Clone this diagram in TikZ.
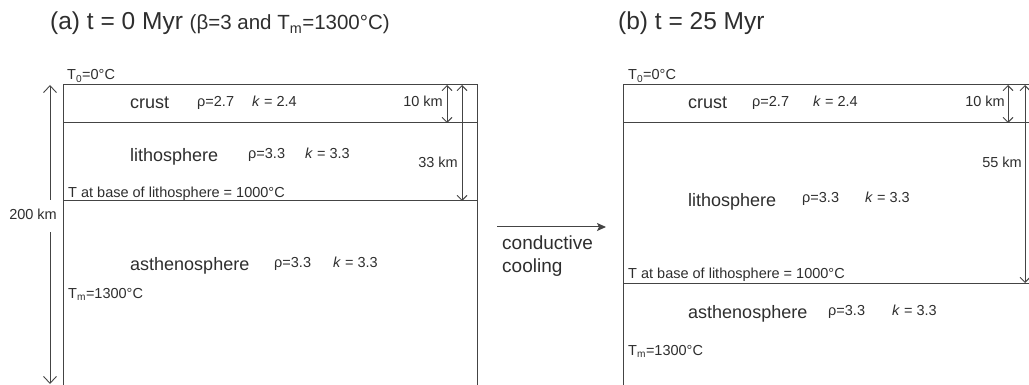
\documentclass[tikz,border=0pt]{standalone}
\usepackage{fontspec}
\setmainfont{Liberation Sans}
\usetikzlibrary{arrows.meta}
\definecolor{txt}{HTML}{2E2E2E}
\definecolor{ln}{HTML}{444444}
\begin{document}
\begin{tikzpicture}[x=1pt,y=-1pt,
  lbl/.style={inner sep=0pt,anchor=base west,text=txt},
  lblr/.style={inner sep=0pt,anchor=base east,text=txt},
  big/.style={lbl,font=\fontsize{18}{20}\selectfont},
  sml/.style={lbl,font=\fontsize{14.5}{16}\selectfont},
  smlr/.style={lblr,font=\fontsize{14.5}{16}\selectfont},
  ttl/.style={lbl,font=\fontsize{24.5}{27}\selectfont},
  boxline/.style={draw=ln,line width=1pt},
  dim/.style={draw=ln,line width=0.9pt,{Straight Barb[length=5pt,width=10pt]}-{Straight Barb[length=5pt,width=10pt]}},
  bigdim/.style={draw=ln,line width=0.9pt,-{Straight Barb[length=7pt,width=13pt]}},
  flow/.style={draw=ln,line width=1pt,-{Stealth[length=9pt,width=8pt,inset=2pt]}}
]
\useasboundingbox (0,0) rectangle (1029,385);
\clip (0,0) rectangle (1029,385);

% ---------- panel (a) ----------
\node[ttl] (ta) at (50,30) {(a) t = 0 Myr {\fontsize{20.5}{22}\selectfont (β=3 and T\textsubscript{m}=1300°C)}};
\draw[boxline] (63,395) -- (63,85) -- (477,85) -- (477,395);
\draw[boxline] (63,123) -- (477,123);
\draw[boxline] (63,201) -- (477,201);

\node[sml] (t0a) at (67,80) {T\textsubscript{0}=0°C};
\node[big] (crusta) at (130,109) {crust};
\node[sml] (rcra) at (197,107) {ρ=2.7};
\node[sml] (kcra) at (252,107) {\textit{k} = 2.4};
\node[big] (litha) at (130,162) {lithosphere};
\node[sml] (rlia) at (248,159) {ρ=3.3};
\node[sml] (klia) at (305,159) {\textit{k} = 3.3};
\node[sml] (tba) at (68,198) {T at base of lithosphere = 1000°C};
\node[big] (asta) at (130,270) {asthenosphere};
\node[sml] (rasa) at (274,267) {ρ=3.3};
\node[sml] (kasa) at (333,267) {\textit{k} = 3.3};
\node[sml] (tma) at (68,298) {T\textsubscript{m}=1300°C};

\coordinate (a10t) at (447,85);  \coordinate (a10b) at (447,123);
\coordinate (a33t) at (462,85);  \coordinate (a33b) at (462,201);
\draw[dim] (a10b) -- (a10t);
\draw[dim] (a33b) -- (a33t);
\node[smlr] (l10a) at (443,107) {10 km};
\node[smlr] (l33a) at (458,168) {33 km};

\node[smlr] (l200) at (57,219) {200 km};
\coordinate (a200t) at (50,85); \coordinate (a200b) at (50,384);
\coordinate (a200s1) at (50,200); \coordinate (a200s2) at (50,232);
\draw[bigdim] (a200s1) -- (a200t);
\draw[bigdim] (a200s2) -- (a200b);

% ---------- arrow ----------
\coordinate (fs) at (497,227); \coordinate (fe) at (606,227);
\draw[flow] (fs) -- (fe);
\node[lbl,font=\fontsize{19}{21}\selectfont] (cond) at (502,250) {conductive};
\node[lbl,font=\fontsize{19}{21}\selectfont] (cool) at (502,272) {cooling};

% ---------- panel (b) ----------
\node[ttl] (tb) at (618,30) {(b) t = 25 Myr};
\draw[boxline] (623,395) -- (623,85) -- (1045,85);
\draw[boxline] (623,123) -- (1045,123);
\draw[boxline] (623,283) -- (1045,283);

\node[sml] (t0b) at (628,80) {T\textsubscript{0}=0°C};
\node[big] (crustb) at (688,109) {crust};
\node[sml] (rcrb) at (752,107) {ρ=2.7};
\node[sml] (kcrb) at (813,107) {\textit{k} = 2.4};
\node[big] (lithb) at (688,207) {lithosphere};
\node[sml] (rlib) at (802,203) {ρ=3.3};
\node[sml] (klib) at (865,203) {\textit{k} = 3.3};
\node[sml] (tbb) at (628,278) {T at base of lithosphere = 1000°C};
\node[big] (astb) at (688,318) {asthenosphere};
\node[sml] (rasb) at (828,315) {ρ=3.3};
\node[sml] (kasb) at (892,315) {\textit{k} = 3.3};
\node[sml] (tmb) at (628,355) {T\textsubscript{m}=1300°C};

\coordinate (b10t) at (1008,85);  \coordinate (b10b) at (1008,123);
\coordinate (b55t) at (1025,85);  \coordinate (b55b) at (1025,283);
\draw[dim] (b10b) -- (b10t);
\draw[dim] (b55b) -- (b55t);
\node[smlr] (l10b) at (1005,107) {10 km};
\node[smlr] (l55b) at (1022,168) {55 km};
\end{tikzpicture}
\end{document}
